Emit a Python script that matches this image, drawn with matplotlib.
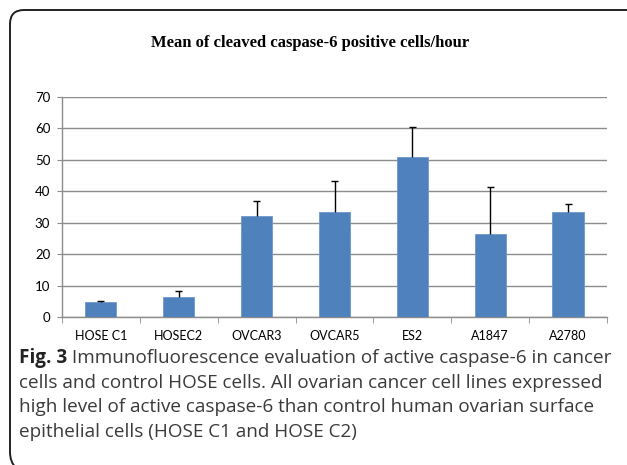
import numpy as np
import matplotlib.pyplot as plt
from matplotlib.path import Path
from matplotlib.patches import PathPatch

# данные
cell_lines = ['HOSE C1', 'HOSEC2', 'OVCAR3', 'OVCAR5', 'ES2', 'A1847', 'A2780']
means = [4.8, 6.3, 32.1, 33.5, 51.0, 26.3, 33.5]
errors = [0.3, 2.1, 4.9, 9.7, 9.6, 15.0, 2.5]
y_ticks = [0, 10, 20, 30, 40, 50, 60, 70]

title = 'Mean of cleaved caspase-6 positive cells/hour'
caption_head = 'Fig. 3'
caption_lines = [
    ' Immunofluorescence evaluation of active caspase-6 in cancer',
    'cells and control HOSE cells. All ovarian cancer cell lines expressed',
    'high level of active caspase-6 than control human ovarian surface',
    'epithelial cells (HOSE C1 and HOSE C2)',
]

W, H = 627, 465
fig = plt.figure(figsize=(W / 100, H / 100), dpi=100)

# рамка: слой в пиксельных координатах
bg = fig.add_axes([0, 0, 1, 1])
bg.set_xlim(0, W)
bg.set_ylim(H, 0)
bg.axis('off')
verts = [(W + 5, 10), (24, 10), (10, 10), (10, 24), (10, 452), (10, 462), (16, 468)]
codes = [Path.MOVETO, Path.LINETO, Path.CURVE3, Path.CURVE3, Path.LINETO, Path.CURVE3, Path.CURVE3]
bg.add_patch(PathPatch(Path(verts, codes), facecolor='none', edgecolor='#222222',
                       linewidth=1.4, clip_on=False))

ax = fig.add_axes([62 / W, 1 - 317 / H, 545 / W, 220 / H])
x = np.arange(len(cell_lines))
grid_col = '#8c8c8c'

ax.bar(x, means, width=0.4, color='#4F81BD', edgecolor='#6f97cc', linewidth=0.6, zorder=3)
# только верхние планки погрешностей
tops = np.array(means) + np.array(errors)
ax.vlines(x, means, tops, color='black', linewidth=1, zorder=4)
ax.hlines(tops, x - 0.045, x + 0.045, color='black', linewidth=1, zorder=4)

ax.set_xlim(-0.5, len(cell_lines) - 0.5)
ax.set_ylim(0, 70)
ax.set_yticks(y_ticks)
ax.yaxis.grid(True, color=grid_col, linewidth=1)
ax.set_axisbelow(True)

ax.set_xticks(x)
ax.set_xticklabels(cell_lines, fontfamily='Lato', fontsize=9)
ax.set_xticks(np.arange(len(cell_lines) + 1) - 0.5, minor=True)
ax.tick_params(axis='x', which='major', length=0, pad=9)
ax.tick_params(axis='x', which='minor', length=4, color=grid_col, direction='out')
ax.tick_params(axis='y', length=3.5, color=grid_col, labelsize=9.5, pad=5)
for lab in ax.get_yticklabels():
    lab.set_fontfamily('Lato')

for s in ['top', 'right']:
    ax.spines[s].set_visible(False)
for s in ['left', 'bottom']:
    ax.spines[s].set_color(grid_col)
    ax.spines[s].set_linewidth(1)

fig.text(310 / W, 1 - 43 / H, title, ha='center', va='center',
         fontfamily='Liberation Serif', fontweight='bold', fontsize=12)

# подпись к рисунку
renderer = fig.canvas.get_renderer()
ys = [358, 383, 407, 432]
fs = 13.6
head = fig.text(19 / W, 1 - ys[0] / H, caption_head, ha='left', va='center',
                fontfamily='Open Sans', fontweight='bold', fontsize=fs, color='#222222')
bb = head.get_window_extent(renderer)
fig.text(bb.x1 / W, 1 - ys[0] / H, caption_lines[0], ha='left', va='center',
         fontfamily='Open Sans', fontsize=fs, color='#3a3a3a')
for yy, line in zip(ys[1:], caption_lines[1:]):
    fig.text(19 / W, 1 - yy / H, line, ha='left', va='center',
             fontfamily='Open Sans', fontsize=fs, color='#3a3a3a')

fig.savefig('out.png', dpi=100)
